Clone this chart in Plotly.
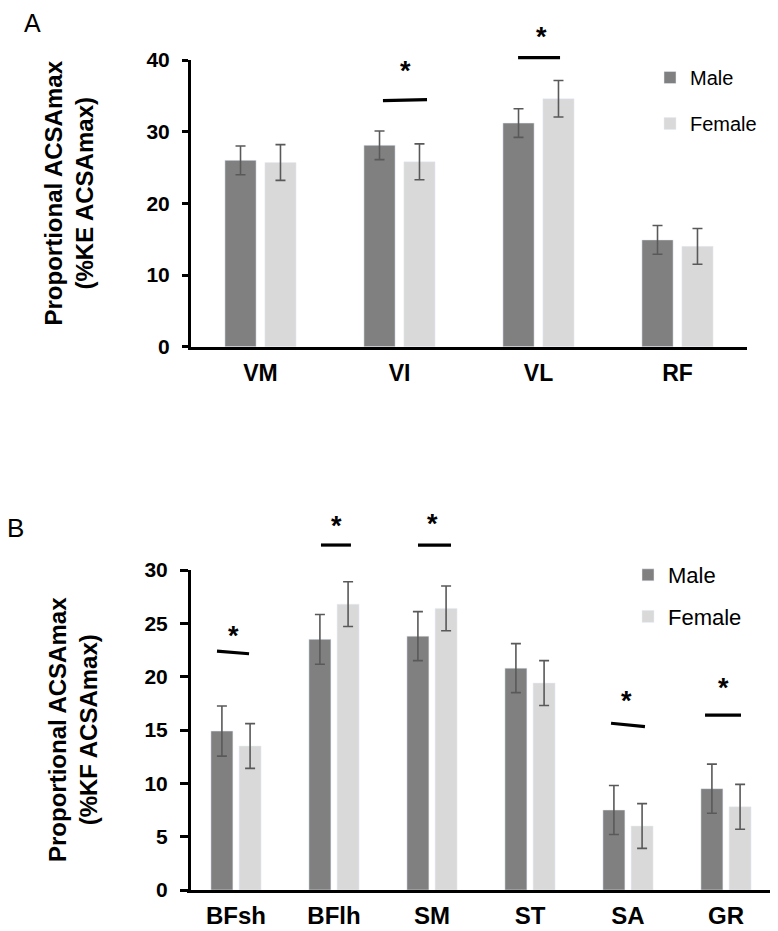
import plotly.graph_objects as go

# ---------------- data ----------------
muscles_A = ["VM", "VI", "VL", "RF"]
male_A = [26.0, 28.1, 31.2, 14.9]
female_A = [25.7, 25.8, 34.6, 14.0]
male_A_err = [2.0, 2.0, 2.0, 2.0]
female_A_err = [2.5, 2.5, 2.55, 2.5]

muscles_B = ["BFsh", "BFlh", "SM", "ST", "SA", "GR"]
male_B = [14.9, 23.5, 23.8, 20.8, 7.5, 9.5]
female_B = [13.5, 26.8, 26.4, 19.4, 6.0, 7.8]
male_B_err = [2.35, 2.33, 2.3, 2.3, 2.3, 2.3]
female_B_err = [2.1, 2.1, 2.1, 2.1, 2.1, 2.1]

yticks_A = [0, 10, 20, 30, 40]
yticks_B = [0, 5, 10, 15, 20, 25, 30]

# significance markers: category, bar-line heights (left, right), star height
sig_A_cat = ["VI", "VL"]
sig_A_line = [(34.32, 34.46), (40.32, 40.32)]
sig_A_star = [38.9, 43.6]
sig_A_span = [(-0.119, 0.198), (-0.147, 0.155)]
sig_A_starx = [0.04, 0.018]

sig_B_cat = ["BFsh", "BFlh", "SM", "SA", "GR"]
sig_B_line = [(22.4, 22.15), (32.34, 32.34), (32.34, 32.34), (15.63, 15.31), (16.4, 16.4)]
sig_B_star = [24.1, 34.4, 34.6, 18.03, 19.2]
sig_B_span = [(-0.194, 0.133), (-0.133, 0.173), (-0.143, 0.194), (-0.173, 0.173), (-0.214, 0.153)]
sig_B_starx = [-0.03, 0.03, 0.01, -0.02, -0.03]

# ---------------- styling ----------------
FW, FH = 778, 931
OFF = 8                    # default page margin before the figure
FONT = "Arial, Liberation Sans, sans-serif"
MALE_C = "#808080"
FEMALE_C = "#d9d9d9"
ERR_C = "#595959"


def px(p):
    return (p - OFF) / FW


def py(p):
    return 1 - (p - OFF) / FH


def err(arr):
    return dict(type="data", array=arr, visible=True, color=ERR_C, thickness=1.6, width=5)


fig = go.Figure()

fig.add_trace(go.Bar(x=muscles_A, y=male_A, name="Male", marker_color=MALE_C,
                     error_y=err(male_A_err), xaxis="x", yaxis="y",
                     legend="legend", legendgroup="mA"))
fig.add_trace(go.Bar(x=muscles_A, y=female_A, name="Female", marker_color=FEMALE_C,
                     error_y=err(female_A_err), xaxis="x", yaxis="y",
                     legend="legend", legendgroup="fA"))
fig.add_trace(go.Bar(x=muscles_B, y=male_B, name="Male", marker_color=MALE_C,
                     error_y=err(male_B_err), xaxis="x2", yaxis="y2",
                     legend="legend2", legendgroup="mB"))
fig.add_trace(go.Bar(x=muscles_B, y=female_B, name="Female", marker_color=FEMALE_C,
                     error_y=err(female_B_err), xaxis="x2", yaxis="y2",
                     legend="legend2", legendgroup="fB"))

A_xdom = [px(191), px(747)]
A_ydom = [py(346.7), py(60)]
B_xdom = [px(187), px(775)]
B_ydom = [py(890), py(570)]


def yax(dom, ticks, tsize, ticklen, standoff):
    return dict(domain=dom, range=[0, ticks[-1]], tickvals=ticks, automargin=False,
                showgrid=False, zeroline=False, showline=True, linewidth=3,
                linecolor="black", ticks="outside", ticklen=ticklen, tickwidth=3,
                tickcolor="black", ticklabelstandoff=standoff,
                tickfont=dict(family=FONT, size=tsize, color="black", weight="bold"))


def xax(dom, anchor, tsize, standoff):
    return dict(domain=dom, anchor=anchor, showgrid=False, zeroline=False, automargin=False,
                showline=True, linewidth=3, linecolor="black", ticks="",
                ticklabelstandoff=standoff,
                tickfont=dict(family=FONT, size=tsize, color="black", weight="bold"))


fig.update_layout(
    width=FW, height=FH,
    margin=dict(l=0, r=0, t=0, b=0, autoexpand=False),
    paper_bgcolor="white", plot_bgcolor="white",
    barmode="group", bargap=0.425, bargroupgap=0.22,
    font=dict(family=FONT, color="black"),
    xaxis=xax(A_xdom, "y", 23, 4),
    yaxis=yax(A_ydom, yticks_A, 21, 6, 8),
    xaxis2=xax(B_xdom, "y2", 24, 2),
    yaxis2=yax(B_ydom, yticks_B, 21, 8, 8),
    legend=dict(x=px(650), y=py(58), xanchor="left", yanchor="top",
                font=dict(family=FONT, size=20, color="black"),
                tracegroupgap=17, bgcolor="rgba(0,0,0,0)"),
    legend2=dict(x=px(628), y=py(554), xanchor="left", yanchor="top",
                 font=dict(family=FONT, size=22, color="black"),
                 tracegroupgap=10, bgcolor="rgba(0,0,0,0)"),
    showlegend=True,
)

shapes = []
annotations = []


def add_sig(cats, cat_list, lines, stars, spans, starxs, ymax, xr, yr):
    n = len(cat_list)
    for c, (yl, yr_), ys, (o0, o1), sx in zip(cats, lines, stars, spans, starxs):
        i = cat_list.index(c)
        shapes.append(dict(type="line", xref=xr, yref=yr,
                           x0=(i + 0.5 + o0) / n, x1=(i + 0.5 + o1) / n,
                           y0=yl / ymax, y1=yr_ / ymax,
                           line=dict(color="black", width=3.2)))
        annotations.append(dict(text="*", xref=xr, yref=yr,
                                x=(i + 0.5 + sx) / n, y=ys / ymax,
                                xanchor="center", yanchor="middle", yshift=-3,
                                showarrow=False,
                                font=dict(family=FONT, size=27, color="black", weight="bold")))


add_sig(sig_A_cat, muscles_A, sig_A_line, sig_A_star, sig_A_span, sig_A_starx,
        yticks_A[-1], "x domain", "y domain")
add_sig(sig_B_cat, muscles_B, sig_B_line, sig_B_star, sig_B_span, sig_B_starx,
        yticks_B[-1], "x2 domain", "y2 domain")

# axis titles and panel labels
annotations.append(dict(text="Proportional ACSAmax<br>(%KE ACSAmax)", textangle=-90,
                        xref="paper", yref="paper", x=px(68), y=py(193.5),
                        xanchor="center", yanchor="middle", showarrow=False,
                        font=dict(family=FONT, size=24, color="black", weight="bold")))
annotations.append(dict(text="Proportional ACSAmax<br>(%KF ACSAmax)", textangle=-90,
                        xref="paper", yref="paper", x=px(73), y=py(730),
                        xanchor="center", yanchor="middle", showarrow=False,
                        font=dict(family=FONT, size=24, color="black", weight="bold")))
annotations.append(dict(text="A", xref="paper", yref="paper", x=px(32), y=1,
                        xanchor="center", yanchor="top", showarrow=False, borderpad=0,
                        font=dict(family=FONT, size=25, color="black")))
annotations.append(dict(text="B", xref="paper", yref="paper", x=px(15), y=py(528),
                        xanchor="center", yanchor="middle", showarrow=False,
                        font=dict(family=FONT, size=26, color="black")))

fig.update_layout(shapes=shapes, annotations=annotations)

fig.write_html("out.html")
